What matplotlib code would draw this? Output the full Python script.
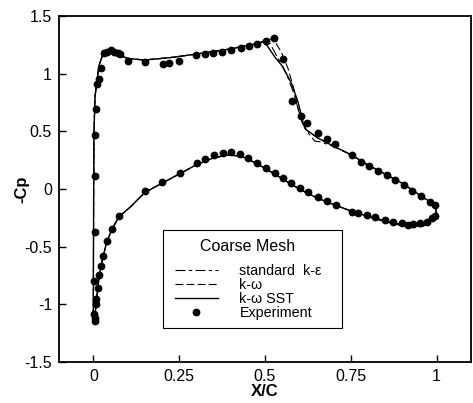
import matplotlib
matplotlib.use("Agg")
import matplotlib.pyplot as plt
from matplotlib.lines import Line2D
from matplotlib.patches import Rectangle

plt.rcParams['font.family'] = ['Liberation Sans', 'DejaVu Sans']

# ---------------- data ----------------
# Experiment, upper surface
exp_up_x = [0.004, 0.005, 0.005, 0.009, 0.011, 0.017, 0.021, 0.032, 0.041, 0.051, 0.061,
            0.071, 0.078, 0.100, 0.151, 0.202, 0.221, 0.250, 0.299, 0.324, 0.349, 0.375,
            0.401, 0.429, 0.452, 0.477, 0.502, 0.526, 0.552, 0.580, 0.604, 0.623, 0.655,
            0.682, 0.705, 0.754, 0.781, 0.804, 0.830, 0.854, 0.879, 0.904, 0.928, 0.955,
            0.980, 0.995]
exp_up_y = [-0.376, 0.113, 0.466, 0.690, 0.910, 0.956, 1.047, 1.180, 1.190, 1.205, 1.185,
            1.176, 1.170, 1.110, 1.104, 1.088, 1.090, 1.110, 1.160, 1.170, 1.176, 1.190,
            1.205, 1.225, 1.237, 1.254, 1.286, 1.312, 1.127, 0.763, 0.633, 0.570, 0.488,
            0.436, 0.390, 0.295, 0.235, 0.202, 0.160, 0.122, 0.077, 0.036, -0.019, -0.064,
            -0.110, -0.140]
# Experiment, lower surface
exp_lo_x = [0.002, 0.003, 0.004, 0.005, 0.007, 0.009, 0.013, 0.017, 0.022, 0.029, 0.039,
            0.054, 0.075, 0.150, 0.200, 0.253, 0.302, 0.326, 0.351, 0.377, 0.400, 0.426,
            0.450, 0.477, 0.502, 0.528, 0.552, 0.577, 0.601, 0.625, 0.653, 0.680, 0.706,
            0.752, 0.771, 0.796, 0.820, 0.849, 0.874, 0.898, 0.917, 0.932, 0.951, 0.971,
            0.985, 0.995]
exp_lo_y = [-0.800, -1.087, -1.120, -1.142, -1.000, -0.956, -0.856, -0.746, -0.665, -0.578,
            -0.448, -0.350, -0.236, -0.020, 0.060, 0.141, 0.223, 0.260, 0.295, 0.315, 0.318,
            0.300, 0.266, 0.223, 0.183, 0.141, 0.093, 0.049, 0.006, -0.029, -0.072, -0.105,
            -0.136, -0.197, -0.205, -0.225, -0.245, -0.269, -0.283, -0.298, -0.312, -0.303,
            -0.298, -0.283, -0.254, -0.234]

# k-omega SST (solid)
sst_up_x = [0.0, 0.0005, 0.001, 0.002, 0.005, 0.010, 0.017, 0.027, 0.041, 0.061, 0.100,
            0.148, 0.226, 0.300, 0.400, 0.480, 0.495, 0.505, 0.528, 0.552, 0.577, 0.596,
            0.606, 0.612, 0.620, 0.655, 0.703, 0.752, 0.800, 0.850, 0.900, 0.950, 0.980,
            0.995, 1.0]
sst_up_y = [-1.12, -0.50, 0.00, 0.50, 0.80, 0.93, 1.075, 1.16, 1.19, 1.176, 1.133,
            1.118, 1.14, 1.17, 1.215, 1.263, 1.277, 1.249, 1.147, 1.06, 0.916, 0.757,
            0.64, 0.56, 0.515, 0.44, 0.367, 0.295, 0.208, 0.13, 0.05, -0.05, -0.11,
            -0.15, -0.21]
low_x = [0.0, 0.003, 0.006, 0.009, 0.013, 0.017, 0.022, 0.029, 0.039, 0.054, 0.075,
         0.109, 0.150, 0.200, 0.250, 0.300, 0.350, 0.392, 0.430, 0.450, 0.500, 0.550,
         0.600, 0.650, 0.700, 0.750, 0.800, 0.850, 0.900, 0.930, 0.960, 0.980, 0.990, 1.0]
sst_lo_y = [-1.12, -1.14, -1.06, -0.96, -0.86, -0.76, -0.67, -0.58, -0.46, -0.35, -0.24,
            -0.153, -0.03, 0.05, 0.13, 0.21, 0.27, 0.295, 0.285, 0.26, 0.18, 0.09,
            0.0, -0.075, -0.135, -0.19, -0.235, -0.275, -0.31, -0.32, -0.31, -0.28, -0.25, -0.21]

# k-omega (dashed)
kw_up_x = [0.0, 0.0005, 0.001, 0.002, 0.005, 0.010, 0.017, 0.027, 0.041, 0.061, 0.100,
           0.148, 0.226, 0.300, 0.400, 0.480, 0.504, 0.523, 0.547, 0.567, 0.586, 0.596,
           0.606, 0.615, 0.625, 0.655, 0.703, 0.752, 0.800, 0.850, 0.900, 0.950, 0.980,
           0.995, 1.0]
kw_up_y = [-1.12, -0.50, 0.00, 0.50, 0.80, 0.93, 1.075, 1.16, 1.19, 1.176, 1.133,
           1.118, 1.14, 1.17, 1.215, 1.263, 1.29, 1.306, 1.19, 1.046, 0.844, 0.70,
           0.60, 0.53, 0.50, 0.44, 0.367, 0.295, 0.208, 0.13, 0.05, -0.05, -0.11,
           -0.15, -0.22]
kw_lo_y = [-1.12, -1.14, -1.06, -0.96, -0.86, -0.76, -0.67, -0.58, -0.46, -0.35, -0.24,
           -0.153, -0.03, 0.05, 0.13, 0.21, 0.27, 0.295, 0.285, 0.26, 0.18, 0.09,
           0.0, -0.075, -0.135, -0.19, -0.24, -0.285, -0.32, -0.335, -0.325, -0.29, -0.26, -0.22]

# standard k-epsilon (dash-dot)
ke_up_x = [0.0, 0.0005, 0.001, 0.002, 0.005, 0.010, 0.017, 0.027, 0.041, 0.061, 0.100,
           0.148, 0.226, 0.300, 0.400, 0.480, 0.500, 0.515, 0.540, 0.565, 0.585, 0.598,
           0.608, 0.618, 0.630, 0.645, 0.659, 0.674, 0.703, 0.752, 0.800, 0.850, 0.900,
           0.950, 0.980, 0.995, 1.0]
ke_up_y = [-1.12, -0.50, 0.00, 0.50, 0.80, 0.93, 1.075, 1.16, 1.19, 1.176, 1.133,
           1.118, 1.14, 1.17, 1.215, 1.263, 1.285, 1.26, 1.12, 0.98, 0.82, 0.68,
           0.58, 0.52, 0.47, 0.415, 0.41, 0.396, 0.365, 0.293, 0.205, 0.127, 0.047,
           -0.055, -0.115, -0.155, -0.215]
ke_lo_y = [-1.12, -1.14, -1.06, -0.96, -0.86, -0.76, -0.67, -0.58, -0.46, -0.35, -0.24,
           -0.153, -0.03, 0.05, 0.13, 0.21, 0.27, 0.295, 0.285, 0.26, 0.18, 0.09,
           0.0, -0.075, -0.135, -0.19, -0.238, -0.28, -0.315, -0.328, -0.318, -0.285, -0.255, -0.215]

x_ticks = [0, 0.25, 0.5, 0.75, 1]
x_tick_labels = ["0", "0.25", "0.5", "0.75", "1"]
y_ticks = [-1.5, -1, -0.5, 0, 0.5, 1, 1.5]
y_tick_labels = ["-1.5", "-1", "-0.5", "0", "0.5", "1", "1.5"]
legend_title = "Coarse Mesh"
legend_labels = ["standard  k-\u03b5", "k-\u03c9", "k-\u03c9 SST", "Experiment"]

# ---------------- plot ----------------
fig = plt.figure(figsize=(4.73, 4.03), dpi=100)
ax = fig.add_axes([0.1247, 0.1017, 0.8711, 0.8586])

lw = 0.8
dashdot = (0, (9, 3, 3, 3))
dashed = (0, (7, 3))
ax.plot(ke_up_x, ke_up_y, color='black', lw=lw, linestyle=dashdot)
ax.plot(low_x, ke_lo_y, color='black', lw=lw, linestyle=dashdot)
ax.plot(kw_up_x, kw_up_y, color='black', lw=lw, linestyle=dashed)
ax.plot(low_x, kw_lo_y, color='black', lw=lw, linestyle=dashed)
ax.plot(sst_up_x, sst_up_y, color='black', lw=1.0, linestyle='-')
ax.plot(low_x, sst_lo_y, color='black', lw=1.0, linestyle='-')
ax.plot(exp_up_x, exp_up_y, 'o', color='black', ms=4.6, mec='black', linestyle='none')
ax.plot(exp_lo_x, exp_lo_y, 'o', color='black', ms=4.6, mec='black', linestyle='none')

ax.set_xlim(-0.1, 1.1)
ax.set_ylim(-1.5, 1.5)
ax.set_xticks(x_ticks)
ax.set_xticklabels(x_tick_labels)
ax.set_yticks(y_ticks)
ax.set_yticklabels(y_tick_labels)
ax.tick_params(direction='in', length=5, width=1.0, labelsize=11.5, pad=5)
for s in ax.spines.values():
    s.set_linewidth(1.3)

ax.set_xlabel("X/C", fontsize=12, fontweight='bold', labelpad=0)
ax.set_ylabel("-Cp", fontsize=12, fontweight='bold')
ax.yaxis.set_label_coords(-0.072, 0.5)

# legend frame and title
ax.add_patch(Rectangle((0.2524, 0.0983), 0.4346, 0.2832, transform=ax.transAxes,
                       facecolor='white', edgecolor='black', lw=0.8, zorder=5))
ax.text(0.4587, 0.335, legend_title, transform=ax.transAxes, ha='center', va='center',
        fontsize=11.5, zorder=6)

handles = [
    Line2D([], [], color='black', lw=lw, linestyle=dashdot),
    Line2D([], [], color='black', lw=lw, linestyle=dashed),
    Line2D([], [], color='black', lw=1.0, linestyle='-'),
    Line2D([], [], color='black', marker='o', ms=4.6, linestyle='none'),
]
leg = ax.legend(handles, legend_labels, loc='upper left',
                bbox_to_anchor=(0.2816, 0.283), fontsize=10.3,
                frameon=False, handlelength=3.0, handletextpad=1.5, labelspacing=0.0,
                borderpad=0, borderaxespad=0)
leg.set_zorder(7)

fig.savefig("out.png", dpi=100)
